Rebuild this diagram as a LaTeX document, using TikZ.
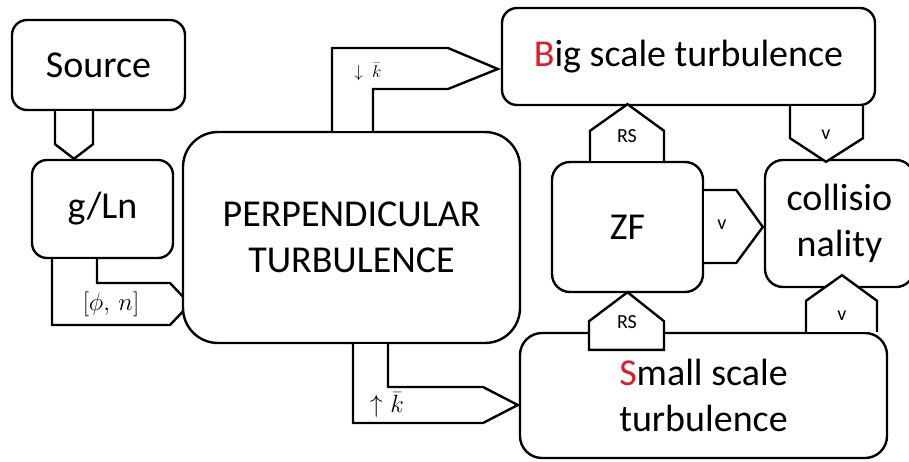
\documentclass[tikz,border=0pt]{standalone}
\usepackage{fontspec}
\setmainfont{Carlito}
\usetikzlibrary{calc}
\definecolor{redS}{RGB}{220,30,40}
\begin{document}
\begin{tikzpicture}[x=1pt,y=-1pt,
  box/.style={draw, line width=2.4pt, fill=white, inner sep=0pt, align=center,
    font=\fontsize{38}{46}\selectfont},
  blockarrow/.style={draw, line width=2.4pt, fill=white, line join=miter},
  lbl/.style={inner sep=0pt, font=\fontsize{20}{22}\selectfont}]
\clip (0,0) rectangle (909,461);
\fill[white] (0,0) rectangle (909,461);
% left column
\node[box, rounded corners=15pt, minimum width=173pt, minimum height=90pt] (src) at (98.5,65) {Source};
\node[box, rounded corners=15pt, minimum width=141pt, minimum height=98pt] (gln) at (102.5,209) {g/Ln};
\filldraw[blockarrow] ($(src.south)+(-43.5,0)$) -- ($(src.south)+(-43.5,33)$)
  -- ($(gln.north)+(-28.5,0)$) -- ($(src.south)+(-5.5,33)$) -- ($(src.south)+(-5.5,0)$);
\filldraw[blockarrow] ($(gln.south)+(-5.5,0)$) |- (170,283) -- (190,304) -- (170,325)
  -| ($(gln.south)+(-50.5,0)$);
\node[lbl, font=\fontsize{25}{27}\selectfont] (phin) at (111,304) {$[\phi,\,n]$};
% centre
\node[box, rounded corners=35pt, minimum width=337pt, minimum height=211pt] (perp) at (351.5,237.5) {PERPENDICULAR\\TURBULENCE};
% right part
\node[box, rounded corners=15pt, minimum width=373pt, minimum height=97pt] (big) at (688.5,56.5) {\textcolor{redS}{B}ig scale turbulence};
\node[box, rounded corners=18pt, minimum width=151pt, minimum height=130pt] (zf) at (627.5,227) {ZF};
\node[box, rounded corners=18pt, minimum width=149pt, minimum height=127pt] (col) at (839.5,223.5) {collisio\\nality};
\node[box, rounded corners=22pt, minimum width=367pt, minimum height=125pt] (small) at (703.5,395.5) {\textcolor{redS}{S}mall scale\\turbulence};
% perp -> big
\filldraw[blockarrow] ($(perp.north)+(-19.5,0)$) |- (448,48) -- ($(big.west)+(-3,12.5)$)
  -- (448,89) -| ($(perp.north)+(21.5,0)$);
\node[lbl, font=\fontsize{19}{21}\selectfont] (kdown) at (368,72) {$\downarrow$\hspace{9pt}$\bar{k}$};
% perp -> small
\filldraw[blockarrow] ($(perp.south)+(36.5,0)$) |- (483,387) -- ($(small.west)+(-1,9.5)$)
  -- (483,423) -| ($(perp.south)+(1.5,0)$);
\node[lbl, font=\fontsize{25}{27}\selectfont] (kup) at (387,405) {$\uparrow$\hspace{8pt}$\bar{k}$};
% zf -> big (RS)
\filldraw[blockarrow] ($(zf.north)+(-37.5,0)$) -- ($(zf.north)+(-37.5,-30)$)
  -- ($(zf.north |- big.south)+(0,-2)$) -- ($(zf.north)+(36.5,-30)$) -- ($(zf.north)+(36.5,0)$);
\node[lbl] (rs1) at (627,136) {RS};
% zf -> col (v)
\filldraw[blockarrow] ($(zf.east)+(0,-37)$) -- ($(zf.east)+(32,-37)$)
  -- ($(zf.east -| col.west)+(-1,0)$) -- ($(zf.east)+(32,36)$) -- ($(zf.east)+(0,36)$);
\node[lbl] (v1) at (722,225) {v};
% big -> col (v)
\filldraw[blockarrow] ($(big.south)+(101.5,0)$) -- ($(big.south)+(101.5,32)$)
  -- ($(col.north)+(-13.5,3)$) -- ($(big.south)+(174.5,32)$) -- ($(big.south)+(174.5,0)$);
\node[lbl] (v2) at (826,135) {v};
% small -> col (v)
\filldraw[blockarrow] ($(small.north)+(102.5,0)$) -- ($(small.north)+(102.5,-31)$)
  -- ($(col.south)+(2.5,-13)$) -- ($(small.north)+(173.5,-31)$) -- ($(small.north)+(173.5,0)$);
\node[lbl] (v3) at (842,316) {v};
% small -> zf (RS)
\filldraw[blockarrow] ($(zf.south |- small.north)+(-38.5,18)$) -- ($(zf.south)+(-38.5,28)$)
  -- ($(zf.south)+(0,-1)$) -- ($(zf.south)+(36.5,28)$) -- ($(zf.south |- small.north)+(36.5,18)$) -- cycle;
\node[lbl] (rs2) at (627,322) {RS};
\end{tikzpicture}
\end{document}
